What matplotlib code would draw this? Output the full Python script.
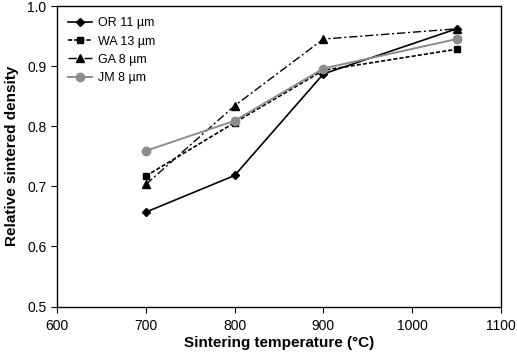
import matplotlib
matplotlib.use("Agg")
import matplotlib.pyplot as plt

temps = [700, 800, 900, 1050]
or_vals = [0.657, 0.718, 0.887, 0.962]
wa_vals = [0.717, 0.806, 0.893, 0.928]
ga_vals = [0.703, 0.834, 0.945, 0.962]
jm_vals = [0.759, 0.809, 0.896, 0.945]
labels = ["OR 11 µm", "WA 13 µm", "GA 8 µm", "JM 8 µm"]

plt.rcParams['font.family'] = ['Liberation Sans', 'DejaVu Sans']
fig = plt.figure(figsize=(5.17, 3.55), dpi=100)
ax = fig.add_axes([57/517, 48.5/355, 444/517, 300.5/355])

ax.plot(temps, or_vals, color='black', lw=1.2, ls='-', marker='D', ms=4.5, label=labels[0])
ax.plot(temps, wa_vals, color='black', lw=1.2, ls=(0, (2.5, 1.2)), marker='s', ms=5, label=labels[1])
ax.plot(temps, ga_vals, color='black', lw=1.0, ls=(0, (6, 2, 1.5, 2)), marker='^', ms=6, label=labels[2])
ax.plot(temps, jm_vals, color='#8c8c8c', lw=1.4, ls='-', marker='o', ms=6, label=labels[3])

ax.set_xlim(600, 1100)
ax.set_ylim(0.5, 1.0)
ax.set_xticks([600, 700, 800, 900, 1000, 1100])
ax.set_yticks([0.5, 0.6, 0.7, 0.8, 0.9, 1.0])
ax.set_yticklabels(["0.5", "0.6", "0.7", "0.8", "0.9", "1.0"])
ax.tick_params(direction='out', length=4, labelsize=10)
ax.tick_params(axis='x', pad=5)
ax.set_xlabel("Sintering temperature (°C)", fontsize=11, fontweight='bold', labelpad=2)
ax.set_ylabel("Relative sintered density", fontsize=11, fontweight='bold', labelpad=6)
for s in ax.spines.values():
    s.set_linewidth(1.0)

ax.legend(loc='upper left', frameon=False, fontsize=9, handlelength=1.9, handletextpad=0.5,
          bbox_to_anchor=(0.0, 1.0), borderaxespad=0.5, labelspacing=0.5)

fig.savefig("out.png", dpi=100)
